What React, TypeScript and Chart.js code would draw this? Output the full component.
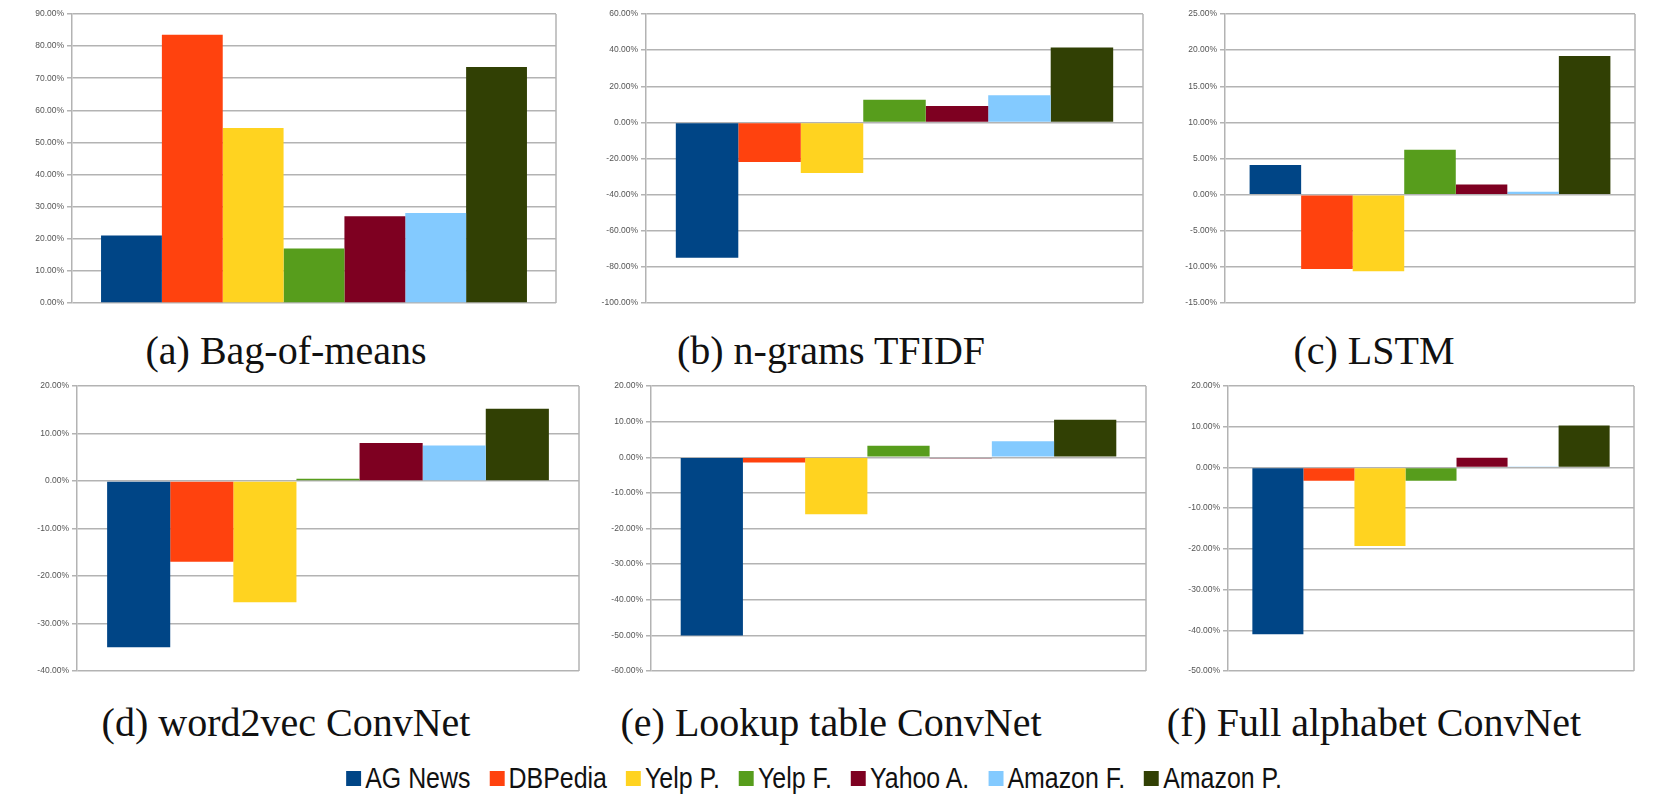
import React, { useEffect, useRef } from "react";
import { Chart, registerables } from "chart.js";

Chart.register(...registerables);

const seriesNames = ["AG News", "DBPedia", "Yelp P.", "Yelp F.", "Yahoo A.", "Amazon F.", "Amazon P."];
const seriesColors = ["#004586", "#ff420e", "#ffd320", "#579d1c", "#7e0021", "#83caff", "#314004"];

const bagOfMeans = [21, 83.5, 54.5, 17, 27, 28, 73.5];
const ngramsTfidf = [-75, -22, -28, 12.5, 9, 15, 41.5];
const lstm = [4.1, -10.3, -10.6, 6.2, 1.4, 0.4, 19.2];
const word2vecConvNet = [-35, -17, -25.5, 0.5, 8, 7.5, 15.2];
const lookupConvNet = [-50, -1.5, -16, 3.2, -0.3, 4.5, 10.5];
const fullAlphabetConvNet = [-41, -3.3, -19.3, -3.3, 2.4, 0.2, 10.3];

const captions = [
  "(a) Bag-of-means",
  "(b) n-grams TFIDF",
  "(c) LSTM",
  "(d) word2vec ConvNet",
  "(e) Lookup table ConvNet",
  "(f) Full alphabet ConvNet",
];

const axisMin = [0, -100, -15, -40, -60, -50];
const axisMax = [90, 60, 25, 20, 20, 20];
const axisStep = [10, 20, 5, 10, 10, 10];

const panelData = [bagOfMeans, ngramsTfidf, lstm, word2vecConvNet, lookupConvNet, fullAlphabetConvNet];

// plot-area boxes in page pixels: [left, top, right, bottom]
const plotBoxes = [
  [72, 14, 556, 303],
  [646, 14, 1143, 303],
  [1225, 14, 1635, 303],
  [77, 386, 579, 671],
  [651, 386, 1146, 671],
  [1228, 386, 1634, 671],
];
const captionCenters = [
  [286, 351],
  [831, 351],
  [1374, 351],
  [286, 723],
  [831, 723],
  [1374, 723],
];

const AXIS_W = 70;
const PAD_T = 10;
const PAD_B = 10;
const PAD_R = 6;
const GRID = "#b3b3b3";

const frameBorder = {
  id: "frameBorder",
  afterDatasetsDraw(chart: any) {
    const { ctx, chartArea } = chart;
    ctx.save();
    ctx.strokeStyle = GRID;
    ctx.lineWidth = 1.5;
    ctx.beginPath();
    ctx.moveTo(chartArea.right, chartArea.top);
    ctx.lineTo(chartArea.right, chartArea.bottom);
    ctx.stroke();
    ctx.restore();
  },
};

function Panel({ idx }: { idx: number }) {
  const ref = useRef<HTMLCanvasElement | null>(null);
  const [L, T, R, B] = plotBoxes[idx];
  const w = R - L + AXIS_W + PAD_R;
  const h = B - T + PAD_T + PAD_B;
  useEffect(() => {
    if (!ref.current) return;
    const chart = new Chart(ref.current, {
      type: "bar",
      data: {
        labels: [""],
        datasets: seriesNames.map((name, i) => ({
          label: name,
          data: [panelData[idx][i]],
          backgroundColor: seriesColors[i],
          borderWidth: 0,
          categoryPercentage: 0.88,
          barPercentage: 1.0,
        })),
      },
      options: {
        responsive: false,
        animation: false,
        layout: { padding: { top: PAD_T, bottom: PAD_B, right: PAD_R, left: 0 } },
        plugins: { legend: { display: false }, tooltip: { enabled: false } },
        scales: {
          x: { display: false },
          y: {
            min: axisMin[idx],
            max: axisMax[idx],
            afterFit(scale: any) {
              scale.width = AXIS_W;
            },
            ticks: {
              stepSize: axisStep[idx],
              color: "#555",
              font: { family: "Liberation Sans", size: 8.5 },
              padding: 3,
              callback: (v: any) => Number(v).toFixed(2) + "%",
            },
            grid: { color: GRID, lineWidth: 1.5, tickLength: 5, drawTicks: true },
            border: { color: GRID, width: 1.5 },
          },
        },
      },
      plugins: [frameBorder],
    });
    return () => chart.destroy();
  }, [idx]);
  return (
    <canvas
      ref={ref}
      width={w}
      height={h}
      style={{ position: "absolute", left: L - AXIS_W, top: T - PAD_T, width: w, height: h }}
    />
  );
}

export default function App() {
  return (
    <div style={{ position: "absolute", left: 0, top: 0, width: 1655, height: 795, background: "#fff", overflow: "hidden" }}>
      {plotBoxes.map((_, i) => (
        <Panel key={i} idx={i} />
      ))}
      {captions.map((c, i) => (
        <div
          key={c}
          style={{
            position: "absolute",
            left: captionCenters[i][0],
            top: captionCenters[i][1],
            transform: "translate(-50%, -50%)",
            fontFamily: "'Liberation Serif', 'Times New Roman', serif",
            fontSize: 40,
            color: "#111",
            whiteSpace: "nowrap",
            lineHeight: 1,
          }}
        >
          {c}
        </div>
      ))}
      <div
        style={{
          position: "absolute",
          left: 814,
          top: 778,
          transform: "translate(-50%, -50%) scaleX(0.83)",
          display: "flex",
          alignItems: "center",
          gap: 23,
          fontFamily: "'Liberation Sans', sans-serif",
          fontSize: 30,
          color: "#111",
          whiteSpace: "nowrap",
          lineHeight: 1,
        }}
      >
        {seriesNames.map((n, i) => (
          <div key={n} style={{ display: "flex", alignItems: "center", gap: 5 }}>
            <span style={{ display: "inline-block", width: 18, height: 15, background: seriesColors[i] }} />
            <span>{n}</span>
          </div>
        ))}
      </div>
    </div>
  );
}
